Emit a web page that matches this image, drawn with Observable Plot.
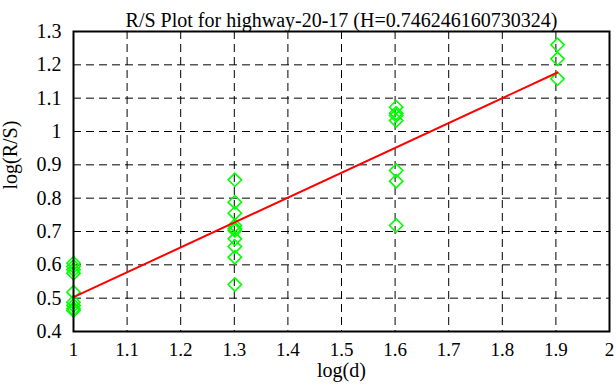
<!DOCTYPE html>
<html><head>
<meta charset="utf-8">
<script src="https://cdn.jsdelivr.net/npm/d3@7"></script>
<script src="https://cdn.jsdelivr.net/npm/@observablehq/plot@0.6"></script>
<style>
body{margin:0;background:#fff}
#chart svg{font-family:"Liberation Serif","DejaVu Serif",serif}
</style>
</head><body><div id="chart"></div>
<script>
const title = "R/S Plot for highway-20-17 (H=0.746246160730324)";
const xLabel = "log(d)";
const yLabel = "log(R/S)";
const logD = [
  1,1,1,1,1,1,1,1,1,
  1.301,1.301,1.301,1.301,1.301,1.301,1.301,1.301,1.301,1.301,
  1.602,1.602,1.602,1.602,1.602,1.602,1.602,
  1.903,1.903,1.903
];
const logRS = [
  0.605,0.595,0.585,0.575,0.518,0.488,0.478,0.468,0.463,
  0.855,0.788,0.755,0.718,0.708,0.703,0.678,0.655,0.623,0.541,
  1.073,1.055,1.048,1.033,0.883,0.851,0.718,
  1.26,1.218,1.158
];
const fitX = [1, 1.903];
const fitY = [0.503, 1.177];
const xTicks = [1,1.1,1.2,1.3,1.4,1.5,1.6,1.7,1.8,1.9,2];
const yTicks = [0.4,0.5,0.6,0.7,0.8,0.9,1,1.1,1.2,1.3];

const points = logD.map((x,i)=>({x, y: logRS[i]}));
const fit = fitX.map((x,i)=>({x, y: fitY[i]}));
const fmt = d => String(+d.toFixed(1));

const chart = Plot.plot({
  width: 616, height: 387,
  marginLeft: 73, marginRight: 7, marginTop: 31, marginBottom: 56,
  style: {fontFamily: '"Liberation Serif", serif', fontSize: "20px", color: "black", background: "white"},
  x: {domain: [1, 2]},
  y: {domain: [0.4, 1.3]},
  marks: [
    Plot.gridX(xTicks, {stroke: "black", strokeOpacity: 1, strokeWidth: 1, strokeDasharray: "8,5"}),
    Plot.gridY(yTicks, {stroke: "black", strokeOpacity: 1, strokeWidth: 1, strokeDasharray: "8,5"}),
    Plot.axisX(xTicks, {tickSize: 0, tickPadding: 11, tickFormat: fmt, label: null, fontSize: 19}),
    Plot.axisY(yTicks, {tickSize: 0, tickPadding: 12, tickFormat: fmt, label: null, fontSize: 20}),
    Plot.dot(points, {x: "x", y: "y", symbol: "diamond2", r: 6, stroke: "#00ff00", strokeWidth: 1.6, fill: "none"}),
    Plot.line(fit, {x: "x", y: "y", stroke: "#ff0000", strokeWidth: 2}),
    Plot.frame({stroke: "black", strokeWidth: 2}),
    Plot.text([title], {frameAnchor: "top", dy: -19, fontSize: 20}),
    Plot.text([xLabel], {frameAnchor: "bottom", dy: 45, fontSize: 20}),
    Plot.text([yLabel], {frameAnchor: "left", dx: -63, dy: 8, rotate: -90, fontSize: 20})
  ]
});
document.getElementById("chart").append(chart);
</script>
</body></html>
